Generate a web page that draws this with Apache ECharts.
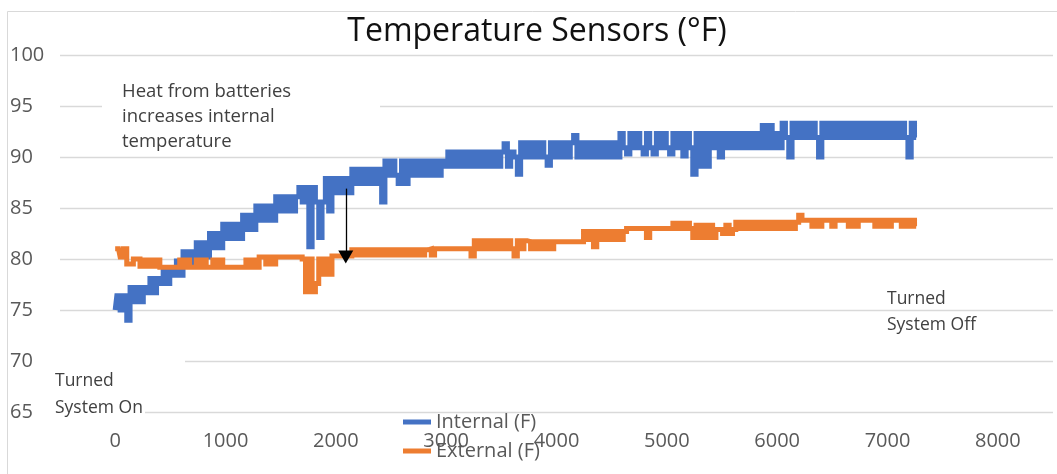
<!DOCTYPE html>
<html>
<head>
<meta charset="utf-8">
<script src="https://cdn.jsdelivr.net/npm/echarts@6/dist/echarts.min.js"></script>
<style>
html, body { margin: 0; padding: 0; background: #fff; }
#chart { width: 1057px; height: 474px; }
</style>
</head>
<body>
<div id="chart"></div>
<script>
// Logged readings, one every 30 seconds from power-on
const sampleSeconds = 30;

const xTicks = [0, 1000, 2000, 3000, 4000, 5000, 6000, 7000, 8000];
const yTicks = [65, 70, 75, 80, 85, 90, 95, 100];
const seriesNames = ['Internal (F)', 'External (F)'];

const internalF = [
  75.0, 76.4, 75.0, 76.4, 74.0, 77.2, 75.8, 77.2, 75.8, 77.2,
  76.7, 78.1, 76.7, 78.1, 77.6, 79.0, 77.6, 79.0, 78.4, 79.8,
  78.4, 80.7, 79.3, 80.7, 79.3, 81.6, 80.2, 81.6, 80.2, 82.5,
  81.1, 82.5, 81.1, 83.4, 82.0, 83.4, 82.0, 83.4, 82.0, 84.3,
  82.9, 84.3, 82.9, 85.2, 83.8, 85.2, 83.8, 85.2, 83.8, 86.1,
  84.7, 86.1, 84.7, 86.1, 84.7, 86.1, 87.0, 85.6, 87.0, 81.2,
  87.0, 85.6, 82.1, 85.6, 87.9, 84.7, 87.9, 86.5, 87.9, 86.5,
  87.9, 86.5, 88.8, 87.4, 88.8, 87.4, 88.8, 87.4, 88.8, 87.4,
  88.8, 85.6, 89.6, 88.2, 89.6, 88.2, 87.4, 89.6, 87.4, 89.6,
  88.2, 89.6, 88.2, 89.6, 88.2, 89.6, 88.2, 89.6, 88.2, 89.6,
  89.1, 90.5, 89.1, 90.5, 89.1, 90.5, 89.1, 90.5, 89.1, 90.5,
  89.1, 90.5, 89.1, 90.5, 89.1, 90.5, 89.1, 90.5, 91.3, 89.1,
  90.5, 90.0, 88.3, 91.4, 90.0, 91.4, 90.0, 91.4, 90.0, 91.4,
  90.0, 89.2, 91.4, 90.0, 91.4, 90.0, 91.4, 90.0, 91.4, 92.1,
  90.0, 91.4, 90.0, 91.4, 90.0, 91.4, 90.0, 91.4, 90.0, 91.4,
  90.0, 91.4, 90.0, 92.3, 90.9, 90.3, 92.3, 90.9, 92.3, 90.9,
  90.3, 92.3, 90.9, 90.3, 92.3, 90.9, 92.3, 90.9, 90.3, 92.3,
  90.9, 92.3, 90.1, 92.3, 90.9, 88.3, 92.3, 89.1, 92.3, 89.1,
  92.3, 90.9, 92.3, 90.0, 92.3, 90.9, 92.3, 90.9, 92.3, 90.9,
  92.3, 90.9, 92.3, 90.9, 92.3, 90.9, 93.1, 90.9, 93.1, 90.9,
  92.3, 90.9, 93.3, 91.9, 90.0, 93.3, 91.9, 93.3, 91.9, 93.3,
  91.9, 93.3, 91.9, 90.0, 93.3, 91.9, 93.3, 91.9, 93.3, 91.9,
  93.3, 91.9, 93.3, 91.9, 93.3, 91.9, 93.3, 91.9, 93.3, 91.9,
  93.3, 91.9, 93.3, 91.9, 93.3, 91.9, 93.3, 91.9, 93.3, 91.9,
  90.0, 93.3, 91.9
];

const externalF = [
  81.0, 81.0, 80.2, 81.0, 79.5, 79.5, 80.0, 80.0, 79.3, 79.9,
  79.3, 79.9, 79.3, 79.9, 79.2, 79.2, 79.2, 79.2, 79.2, 79.2,
  79.9, 79.2, 79.9, 79.2, 79.2, 79.9, 79.2, 79.9, 79.2, 79.2,
  79.9, 79.2, 79.9, 79.2, 79.2, 79.2, 79.2, 79.2, 79.2, 79.2,
  79.9, 79.2, 79.9, 79.2, 80.2, 80.2, 79.5, 80.2, 79.5, 80.2,
  80.2, 80.2, 80.2, 80.2, 80.2, 80.2, 80.2, 80.0, 76.8, 80.0,
  76.8, 77.6, 80.0, 78.5, 80.0, 78.5, 80.3, 80.3, 80.3, 80.3,
  80.3, 80.3, 80.9, 80.4, 80.9, 80.4, 80.9, 80.4, 80.9, 80.4,
  80.9, 80.4, 80.9, 80.4, 80.9, 80.4, 80.9, 80.4, 80.9, 80.4,
  80.9, 80.4, 80.9, 80.4, 80.9, 81.0, 80.4, 81.0, 81.0, 81.0,
  81.0, 81.0, 81.0, 81.0, 81.0, 81.0, 81.0, 81.0, 80.3, 81.8,
  81.0, 81.8, 81.0, 81.8, 81.0, 81.8, 81.0, 81.8, 81.0, 81.8,
  81.0, 80.3, 81.8, 81.0, 81.8, 81.7, 81.0, 81.7, 81.0, 81.7,
  81.0, 81.7, 81.0, 81.7, 81.7, 81.7, 81.7, 81.7, 81.7, 81.7,
  81.7, 81.7, 82.7, 81.9, 82.7, 81.2, 82.7, 81.9, 82.7, 81.9,
  82.7, 81.9, 82.7, 81.9, 82.7, 83.0, 83.0, 83.0, 83.0, 83.0,
  83.0, 82.1, 83.0, 83.0, 83.0, 83.0, 83.0, 83.0, 83.0, 83.5,
  83.0, 83.5, 83.0, 83.5, 83.0, 82.1, 83.3, 82.1, 83.3, 82.1,
  83.3, 82.1, 82.9, 82.9, 82.5, 83.3, 82.5, 82.9, 83.6, 83.0,
  83.6, 83.0, 83.6, 83.0, 83.6, 83.0, 83.6, 83.0, 83.6, 83.0,
  83.6, 83.0, 83.6, 83.0, 83.6, 83.0, 83.6, 84.3, 83.8, 83.8,
  83.8, 83.2, 83.8, 83.2, 83.8, 83.8, 83.8, 83.2, 83.8, 83.8,
  83.8, 83.8, 83.2, 83.8, 83.2, 83.8, 83.8, 83.8, 83.8, 83.8,
  83.2, 83.8, 83.2, 83.8, 83.2, 83.8, 83.8, 83.8, 83.2, 83.8,
  83.2, 83.8, 83.2
];

// Arrow from the internal trace down to the external trace (seconds, °F)
const arrowStart = [2090, 86.9];
const arrowEnd = [2090, 80.2];

const FONT = '"Open Sans", "Noto Sans", sans-serif';
const withTime = arr => arr.map((v, i) => [i * sampleSeconds, v]);

const chart = echarts.init(document.getElementById('chart'), null, { renderer: 'canvas' });

chart.setOption({
  animation: false,
  backgroundColor: '#fff',
  title: {
    text: 'Temperature Sensors (°F)',
    left: 537,
    textAlign: 'center',
    top: 16,
    padding: 0,
    textStyle: { fontFamily: FONT, fontSize: 32, fontWeight: 'normal', color: '#111' }
  },
  grid: { left: 60, right: 4, top: 55, bottom: 62 },
  xAxis: {
    type: 'value',
    min: -500,
    max: 8500,
    interval: 500,
    axisLine: { show: false },
    axisTick: { show: false },
    splitLine: { show: false },
    axisLabel: {
      margin: 19,
      fontFamily: FONT,
      fontSize: 20,
      color: '#595959',
      formatter: v => (xTicks.includes(v) ? String(v) : '')
    }
  },
  yAxis: {
    type: 'value',
    min: yTicks[0],
    max: yTicks[yTicks.length - 1],
    interval: 5,
    axisLine: { show: false },
    axisTick: { show: false },
    splitLine: { lineStyle: { color: '#d9d9d9', width: 1.3 } },
    axisLabel: {
      align: 'left',
      margin: 50,
      fontFamily: FONT,
      fontSize: 20,
      color: '#595959',
      formatter: v => (yTicks.includes(v) ? String(v) : '')
    }
  },
  legend: {
    orient: 'vertical',
    left: 403,
    top: 412,
    padding: 0,
    itemWidth: 28,
    itemHeight: 5,
    itemGap: 9,
    icon: 'rect',
    data: seriesNames,
    textStyle: { fontFamily: FONT, fontSize: 20, color: '#595959', lineHeight: 20 }
  },
  graphic: [
    {
      type: 'rect', silent: true, z: 0,
      shape: { x: 7.5, y: 11.5, width: 1100, height: 500 },
      style: { fill: 'none', stroke: '#d9d9d9', lineWidth: 1 }
    },
    { type: 'rect', silent: true, z: 1, shape: { x: 102, y: 78, width: 278, height: 72 }, style: { fill: '#fff' } },
    { type: 'rect', silent: true, z: 1, shape: { x: 50, y: 352, width: 135, height: 40 }, style: { fill: '#fff' } },
    { type: 'rect', silent: true, z: 1, shape: { x: 50, y: 400, width: 95, height: 20 }, style: { fill: '#fff' } },
    {
      type: 'text', silent: true, z: 10, x: 122, y: 79,
      style: { text: 'Heat from batteries\nincreases internal\ntemperature', fontFamily: FONT, fontSize: 18.5, lineHeight: 25, fill: '#404040', verticalAlign: 'top' }
    },
    {
      type: 'text', silent: true, z: 10, x: 55, y: 368,
      style: { text: 'Turned\nSystem On', fontFamily: FONT, fontSize: 17.5, lineHeight: 27, fill: '#404040', verticalAlign: 'top' }
    },
    {
      type: 'text', silent: true, z: 10, x: 887, y: 286,
      style: { text: 'Turned\nSystem Off', fontFamily: FONT, fontSize: 17.5, lineHeight: 26, fill: '#404040', verticalAlign: 'top' }
    }
  ],
  series: [
    {
      name: seriesNames[0],
      type: 'line',
      step: 'middle',
      data: withTime(internalF),
      showSymbol: false,
      symbol: 'none',
      z: 2,
      color: '#4472C4',
      lineStyle: { color: '#4472C4', width: 5, join: 'miter', cap: 'butt' }
    },
    {
      name: seriesNames[1],
      type: 'line',
      step: 'middle',
      data: withTime(externalF),
      showSymbol: false,
      symbol: 'none',
      z: 3,
      color: '#ED7D31',
      lineStyle: { color: '#ED7D31', width: 5, join: 'miter', cap: 'butt' },
      markLine: {
        silent: true,
        animation: false,
        symbol: ['none', 'triangle'],
        symbolSize: [15, 13],
        label: { show: false },
        lineStyle: { color: '#000', width: 1.3, type: 'solid' },
        emphasis: { disabled: true },
        data: [[{ coord: arrowStart }, { coord: arrowEnd }]]
      }
    }
  ]
});
</script>
</body>
</html>
